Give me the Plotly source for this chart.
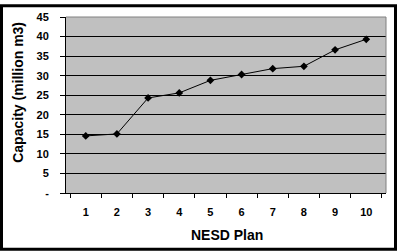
import plotly.graph_objects as go

plans = ["1", "2", "3", "4", "5", "6", "7", "8", "9", "10"]
capacity = [14.6, 15.1, 24.3, 25.6, 28.8, 30.3, 31.8, 32.4, 36.6, 39.3]
y_tickvals = [0, 5, 10, 15, 20, 25, 30, 35, 40, 45]
y_ticktext = ["-", "5", "10", "15", "20", "25", "30", "35", "40", "45"]

W, H = 397, 252
ml, mr, mt, mb = 66, 11, 13, 59
pw, ph = W - ml - mr, H - mt - mb

fig = go.Figure()
fig.add_trace(go.Scatter(
    x=plans, y=capacity, mode="lines+markers",
    line=dict(color="black", width=1),
    marker=dict(symbol="diamond", size=6, color="black"),
))

font = "Liberation Sans, Arial, sans-serif"
fig.update_layout(
    width=W, height=H,
    margin=dict(l=ml, r=mr, t=mt, b=mb),
    paper_bgcolor="white", plot_bgcolor="#C0C0C0",
    showlegend=False,
    font=dict(family=font, color="black"),
    xaxis=dict(
        type="category", tickson="boundaries", ticks="outside", ticklen=4,
        tickcolor="black", showline=True, linecolor="black", linewidth=1,
        showgrid=False, mirror=False, ticklabelstandoff=9,
        tickfont=dict(size=11, family=font, weight="bold"),
    ),
    yaxis=dict(
        range=[0, 45], tickvals=y_tickvals, ticktext=y_ticktext,
        ticks="outside", ticklen=5, tickcolor="black",
        showline=True, linecolor="black", linewidth=1,
        showgrid=True, gridcolor="black", gridwidth=1, zeroline=False,
        ticklabelstandoff=9,
        tickfont=dict(size=11, family=font, weight="bold"),
    ),
    annotations=[
        dict(text="<b>NESD Plan</b>", xref="paper", yref="paper",
             x=(227 - ml) / pw, y=(mt + ph - 235.5) / ph,
             xanchor="center", yanchor="middle", showarrow=False,
             font=dict(size=14, family=font, color="black")),
        dict(text="<b>Capacity (million m3)</b>", xref="paper", yref="paper",
             x=(18 - ml) / pw, y=(mt + ph - 90.5) / ph, textangle=-90,
             xanchor="center", yanchor="middle", showarrow=False,
             font=dict(size=14, family=font, color="black")),
    ],
    shapes=[
        dict(type="line", xref="paper", yref="paper",
             x0=1, x1=1, y0=0, y1=1,
             line=dict(color="#808080", width=1)),
        dict(type="line", xref="paper", yref="paper",
             x0=0, x1=1, y0=1, y1=1,
             line=dict(color="#808080", width=1)),
        dict(type="rect", xref="paper", yref="paper",
             x0=(-ml + 1.5) / pw, x1=1 + (mr - 1.5) / pw,
             y0=(-mb + 1.5) / ph, y1=1 + (mt - 1.5) / ph,
             line=dict(color="black", width=3), layer="above"),
    ],
)

fig.write_html("out.html")
